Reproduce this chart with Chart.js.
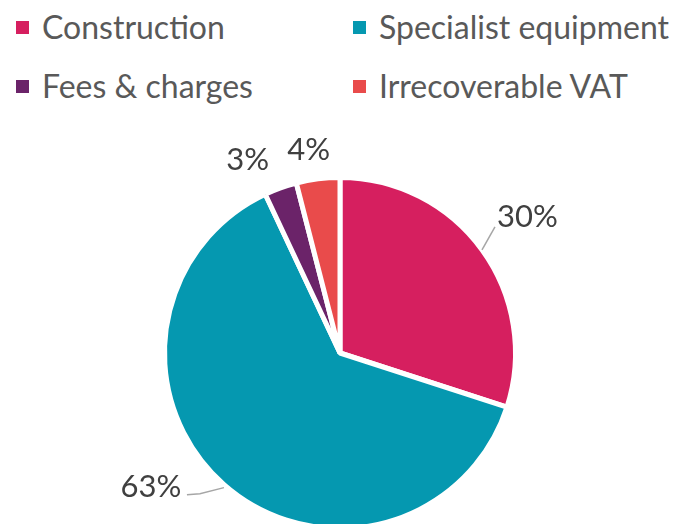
<!DOCTYPE html>
<html>
<head>
<meta charset="utf-8">
<script src="https://cdn.jsdelivr.net/npm/chart.js@4/dist/chart.umd.min.js"></script>
<style>
    html, body { margin: 0; padding: 0; background: #fff; }
    body { width: 682px; height: 524px; overflow: hidden; position: relative; font-family: Lato, "Open Sans", sans-serif; }
    #pieChart { position: absolute; left: 0; top: 0; }
    .legend { position: absolute; left: 0; top: 0; width: 682px; }
    .legend__item { position: absolute; display: flex; align-items: center; color: #595959; font-size: 32px; white-space: nowrap; line-height: 1; }
    .legend__swatch { width: 13px; height: 13px; margin-right: 13px; }
</style>
</head>
<body>
<div class="legend" id="legend"></div>
<canvas id="pieChart" width="682" height="706"></canvas>
<script>
const categories = ["Construction", "Specialist equipment", "Fees & charges", "Irrecoverable VAT"];
const shares = [30, 63, 3, 4];
const labelTexts = ["30%", "63%", "3%", "4%"];
const sliceColors = ["#D61F5F", "#0598B0", "#6B2369", "#E94B4B"];

// legend slots: column x, row y (center line)
const legendSlots = [
    { left: 16, top: 27 },
    { left: 353, top: 27 },
    { left: 16, top: 86 },
    { left: 353, top: 86 },
];

function buildLegend() {
    const legend = document.getElementById("legend");
    categories.forEach((name, i) => {
        const item = document.createElement("div");
        item.className = "legend__item";
        item.style.left = `${legendSlots[i].left}px`;
        item.style.top = `${legendSlots[i].top - 16}px`;
        item.innerHTML = `<span class="legend__swatch" style="background:${sliceColors[i]}"></span><span>${name}</span>`;
        legend.appendChild(item);
    });
}

// per-slice label placement relative to the slice mid-angle edge point
const labelPlacement = [
    { radius: 1.32, dx: 0, dy: 0, leader: [[0, 0], [13, -23]] },
    { radius: 1.0, dx: -73, dy: 2, leader: [[0, 3], [-24, 9], [-37, 10]] },
    { radius: 1.2, dx: -21, dy: 5, leader: null },
    { radius: 1.15, dx: -6, dy: -3, leader: null },
];

const pieLabels = {
    id: "pieLabels",
    afterDatasetsDraw(chart) {
        const { ctx } = chart;
        const meta = chart.getDatasetMeta(0);
        ctx.save();
        meta.data.forEach((arc, i) => {
            const p = arc.getProps(["x", "y", "startAngle", "endAngle", "outerRadius"], true);
            const mid = (p.startAngle + p.endAngle) / 2;
            const ex = p.x + Math.cos(mid) * p.outerRadius;
            const ey = p.y + Math.sin(mid) * p.outerRadius;
            const place = labelPlacement[i];
            const lx = p.x + Math.cos(mid) * p.outerRadius * place.radius + place.dx;
            const ly = p.y + Math.sin(mid) * p.outerRadius * place.radius + place.dy;
            if (place.leader) {
                ctx.strokeStyle = "#A6A6A6";
                ctx.lineWidth = 1.5;
                ctx.beginPath();
                place.leader.forEach(([ox, oy], k) => {
                    if (k === 0) ctx.moveTo(ex + ox, ey + oy);
                    else ctx.lineTo(ex + ox, ey + oy);
                });
                ctx.stroke();
            }
            ctx.fillStyle = "#404040";
            ctx.font = "31px Lato, 'Open Sans', sans-serif";
            ctx.textAlign = "center";
            ctx.textBaseline = "middle";
            ctx.fillText(labelTexts[i], lx, ly);
        });
        ctx.restore();
    },
};

buildLegend();

new Chart(document.getElementById("pieChart"), {
    type: "pie",
    data: {
        labels: categories,
        datasets: [{
            data: shares,
            backgroundColor: sliceColors,
            borderColor: "#ffffff",
            borderWidth: 5,
        }],
    },
    options: {
        responsive: false,
        animation: false,
        layout: { padding: { top: 175, bottom: 175, left: 162, right: 164 } },
        plugins: {
            legend: { display: false },
            tooltip: { enabled: false },
        },
    },
    plugins: [pieLabels],
});
</script>
</body>
</html>
